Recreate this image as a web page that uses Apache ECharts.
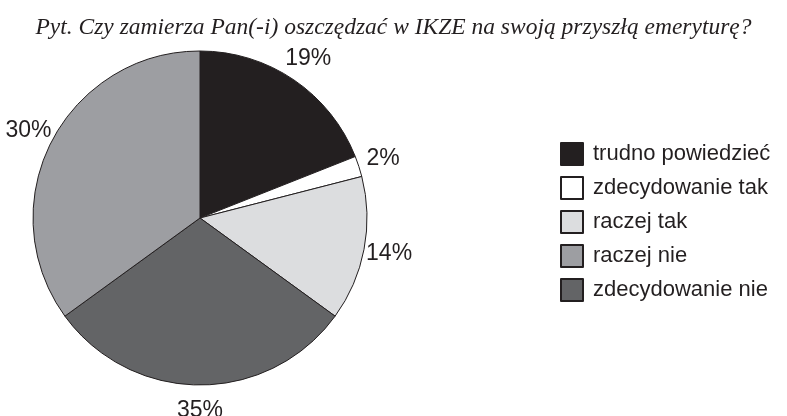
<!DOCTYPE html>
<html>
<head>
<meta charset="utf-8">
<script src="https://cdn.jsdelivr.net/npm/echarts@6/dist/echarts.min.js"></script>
<style>
  html, body { margin: 0; padding: 0; background: #fff; }
  #chart { width: 787px; height: 416px; }
</style>
</head>
<body>
<div id="chart"></div>
<script>
// kolejnosc wycinkow zgodnie z ruchem wskazowek zegara od gory
var categories = ['trudno powiedzieć', 'zdecydowanie tak', 'raczej tak', 'zdecydowanie nie', 'raczej nie'];
// wielkosci wycinkow
var values = [19, 2, 14, 30, 35];
// napisy wydrukowane przy wycinkach (w oryginale 35% i 30% sa zamienione wzgledem wielkosci)
var labelTexts = ['19%', '2%', '14%', '35%', '30%'];
var colors = ['#231f20', '#ffffff', '#dcdddf', '#636466', '#9d9ea2'];
var legendOrder = ['trudno powiedzieć', 'zdecydowanie tak', 'raczej tak', 'raczej nie', 'zdecydowanie nie'];

var pieData = categories.map(function (name, i) {
  return { name: name, value: values[i], itemStyle: { color: colors[i] } };
});

var chart = echarts.init(document.getElementById('chart'), null, { renderer: 'canvas' });

chart.setOption({
  backgroundColor: '#fff',
  animation: false,
  title: {
    text: 'Pyt. Czy zamierza Pan(-i) oszczędzać w IKZE na swoją przyszłą emeryturę?',
    left: 'center',
    top: 11,
    textStyle: {
      fontFamily: 'Liberation Serif',
      fontStyle: 'italic',
      fontWeight: 'normal',
      fontSize: 23.5,
      color: '#231f20'
    }
  },
  legend: {
    data: legendOrder,
    orient: 'vertical',
    left: 560,
    top: 142,
    padding: 0,
    icon: 'rect',
    itemWidth: 22,
    itemHeight: 22,
    itemGap: 10,
    selectedMode: false,
    textStyle: {
      fontFamily: 'Liberation Sans',
      fontSize: 22,
      color: '#231f20',
      padding: [0, 0, 0, 5]
    }
  },
  series: [
    {
      type: 'pie',
      center: [200, 218],
      radius: [0, 167],
      startAngle: 90,
      clockwise: true,
      silent: true,
      data: pieData,
      itemStyle: { borderColor: '#231f20', borderWidth: 1 },
      label: { show: false },
      labelLine: { show: false }
    },
    {
      // przezroczysty pierscien tylko do ustawienia napisow wokol kola
      type: 'pie',
      center: [200, 218],
      radius: [167, 212],
      startAngle: 90,
      clockwise: true,
      silent: true,
      data: pieData.map(function (d) {
        return { name: d.name, value: d.value, itemStyle: { color: 'rgba(0,0,0,0)', borderWidth: 0 } };
      }),
      label: {
        show: true,
        position: 'inside',
        fontFamily: 'Liberation Sans',
        fontSize: 23,
        color: '#231f20',
        formatter: function (p) { return labelTexts[p.dataIndex]; }
      },
      labelLine: { show: false },
      emphasis: { disabled: true }
    }
  ]
});
</script>
</body>
</html>
